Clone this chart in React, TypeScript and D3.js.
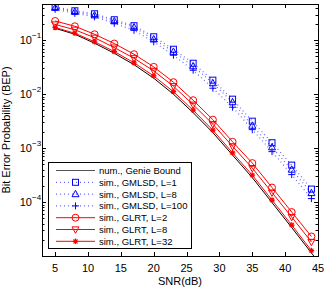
import React, { useEffect, useRef } from 'react';
import * as d3 from 'd3';

// SNR points where the simulated curves have markers
const snr = [5, 8, 11, 14, 17, 20, 23, 26, 29, 32, 35, 38, 41, 44];
// genie bound is drawn out to the edge of the axis
const genieSnr = [5, 8, 11, 14, 17, 20, 23, 26, 29, 32, 35, 38, 41, 44, 45];
const genie = [0.1668, 0.1292, 0.088, 0.0574, 0.0352, 0.0198, 0.01, 0.00454, 0.00194, 7.42e-4, 2.84e-4, 9.79e-5, 3.37e-5, 1.14e-5, 7.9e-6];

const gmlsdL1 = [0.417, 0.352, 0.31, 0.24, 0.186, 0.116, 0.0681, 0.0375, 0.0182, 0.00808, 0.00316, 0.00126, 4.84e-4, 1.74e-4];
const gmlsdL8 = [0.4, 0.337, 0.29, 0.225, 0.174, 0.1044, 0.0612, 0.033, 0.016, 0.00711, 0.00261, 0.00104, 4.0e-4, 1.47e-4];
const gmlsdL100 = [0.375, 0.316, 0.272, 0.206, 0.153, 0.0938, 0.0527, 0.0278, 0.0129, 0.00574, 0.0022, 8.62e-4, 3.23e-4, 1.16e-4];

const glrtL2 = [0.2275, 0.1816, 0.129, 0.0869, 0.0551, 0.0321, 0.0167, 0.00774, 0.00337, 0.00131, 5.28e-4, 1.86e-4, 6.53e-5, 2.3e-5];
const glrtL8 = [0.1962, 0.1564, 0.1112, 0.0732, 0.0464, 0.027, 0.01406, 0.00639, 0.00278, 0.00108, 4.26e-4, 1.5e-4, 5.28e-5, 1.82e-5];
const glrtL32 = [0.1726, 0.1348, 0.0938, 0.0617, 0.0383, 0.0218, 0.01112, 0.00505, 0.00215, 8.18e-4, 3.16e-4, 1.09e-4, 3.75e-5, 1.26e-5];

const xTicks = [5, 10, 15, 20, 25, 30, 35, 40, 45];
const yMajor = [-1, -2, -3, -4];

const BLUE = '#0000ff';
const RED = '#ff0000';

const series = [
  { name: 'num., Genie Bound', x: genieSnr, y: genie, color: '#000000', dash: null, marker: 'none' },
  { name: 'sim., GMLSD, L=1', x: snr, y: gmlsdL1, color: BLUE, dash: '1 3', marker: 'square' },
  { name: 'sim., GMLSD, L=8', x: snr, y: gmlsdL8, color: BLUE, dash: '1 3', marker: 'triangle' },
  { name: 'sim., GMLSD, L=100', x: snr, y: gmlsdL100, color: BLUE, dash: '1 3', marker: 'plus' },
  { name: 'sim., GLRT, L=2', x: snr, y: glrtL2, color: RED, dash: null, marker: 'circle' },
  { name: 'sim., GLRT, L=8', x: snr, y: glrtL8, color: RED, dash: null, marker: 'triangleDown' },
  { name: 'sim., GLRT, L=32', x: snr, y: glrtL32, color: RED, dash: null, marker: 'star' },
];

const drawMarker = (g, type, cx, cy, color) => {
  const s = 3;
  if (type === 'square') {
    g.append('rect').attr('x', cx - s).attr('y', cy - s).attr('width', 2 * s).attr('height', 2 * s)
      .attr('fill', 'none').attr('stroke', color).attr('stroke-width', 1);
  } else if (type === 'circle') {
    g.append('circle').attr('cx', cx).attr('cy', cy).attr('r', 3.5)
      .attr('fill', 'none').attr('stroke', color).attr('stroke-width', 1);
  } else if (type === 'triangle') {
    g.append('path').attr('d', `M${cx},${cy - 3.8}L${cx + 3.5},${cy + 2.6}L${cx - 3.5},${cy + 2.6}Z`)
      .attr('fill', 'none').attr('stroke', color).attr('stroke-width', 1);
  } else if (type === 'triangleDown') {
    g.append('path').attr('d', `M${cx},${cy + 3.8}L${cx + 3.5},${cy - 2.6}L${cx - 3.5},${cy - 2.6}Z`)
      .attr('fill', 'none').attr('stroke', color).attr('stroke-width', 1);
  } else if (type === 'plus') {
    g.append('path').attr('d', `M${cx - 3.5},${cy}H${cx + 3.5}M${cx},${cy - 3.5}V${cy + 3.5}`)
      .attr('stroke', color).attr('stroke-width', 1);
  } else if (type === 'star') {
    const r = 2.8, d = 2;
    g.append('path')
      .attr('d', `M${cx - r},${cy}H${cx + r}M${cx},${cy - r}V${cy + r}M${cx - d},${cy - d}L${cx + d},${cy + d}M${cx - d},${cy + d}L${cx + d},${cy - d}`)
      .attr('stroke', color).attr('stroke-width', 1.2);
  }
};

const App = () => {
  const ref = useRef(null);

  useEffect(() => {
    const svg = d3.select(ref.current);
    svg.selectAll('*').remove();

    const left = 42, right = 318, top = 4, bottom = 256;
    const x = d3.scaleLinear().domain([3, 45]).range([left, right]);
    const y = d3.scaleLog().domain([1e-5, 0.47]).range([bottom, top]);

    const font = '"Liberation Sans", Arial, Helvetica, sans-serif';

    svg.append('rect').attr('width', 326).attr('height', 288).attr('fill', '#fff');

    svg.append('defs').append('clipPath').attr('id', 'plotclip')
      .append('rect').attr('x', left).attr('y', top).attr('width', right - left).attr('height', bottom - top);

    // ticks
    const ticks = svg.append('g').attr('stroke', '#000').attr('stroke-width', 1);
    xTicks.forEach((t) => {
      const px = Math.round(x(t)) + 0.5;
      ticks.append('line').attr('x1', px).attr('x2', px).attr('y1', bottom).attr('y2', bottom - 4);
      ticks.append('line').attr('x1', px).attr('x2', px).attr('y1', top).attr('y2', top + 4);
    });
    for (let e = -5; e <= -1; e++) {
      for (let m = 1; m <= 9; m++) {
        const v = m * Math.pow(10, e);
        if (v > 0.47) continue;
        const py = Math.round(y(v)) + 0.5;
        const len = m === 1 ? 4 : 2.5;
        ticks.append('line').attr('x1', left).attr('x2', left + len).attr('y1', py).attr('y2', py);
        ticks.append('line').attr('x1', right).attr('x2', right - len).attr('y1', py).attr('y2', py);
      }
    }

    // curves
    const plot = svg.append('g').attr('clip-path', 'url(#plotclip)');
    series.forEach((s) => {
      const pts = s.x.map((v, i) => [x(v), y(s.y[i])]);
      const line = d3.line();
      plot.append('path')
        .attr('d', line(pts))
        .attr('fill', 'none')
        .attr('stroke', s.color)
        .attr('stroke-width', s.dash ? 1.2 : 1)
        .attr('stroke-opacity', s.dash ? 0.6 : 1)
        .attr('stroke-dasharray', s.dash);
      if (s.marker !== 'none') {
        pts.forEach((p) => drawMarker(plot, s.marker, p[0], p[1], s.color));
      }
    });

    // frame
    svg.append('rect').attr('x', left + 0.5).attr('y', top + 0.5)
      .attr('width', right - left).attr('height', bottom - top)
      .attr('fill', 'none').attr('stroke', '#000').attr('stroke-width', 1);

    // tick labels
    xTicks.forEach((t) => {
      svg.append('text').attr('x', x(t)).attr('y', bottom + 16)
        .attr('text-anchor', 'middle').attr('font-family', font).attr('font-size', 11)
        .text(t);
    });
    yMajor.forEach((e) => {
      const t = svg.append('text').attr('x', 32).attr('y', y(Math.pow(10, e)) + 4)
        .attr('text-anchor', 'end').attr('font-family', font).attr('font-size', 11);
      t.text('10');
      svg.append('text').attr('x', 32).attr('y', y(Math.pow(10, e)) - 2)
        .attr('font-family', font).attr('font-size', 8)
        .text('\u2212' + Math.abs(e));
    });

    // axis titles
    svg.append('text').attr('x', (left + right) / 2).attr('y', bottom + 29)
      .attr('text-anchor', 'middle').attr('font-family', font).attr('font-size', 11)
      .text('SNR(dB)');
    svg.append('text').attr('transform', `translate(10,${(top + bottom) / 2}) rotate(-90)`)
      .attr('text-anchor', 'middle').attr('font-family', font).attr('font-size', 11)
      .text('Bit Error Probability (BEP)');

    // legend
    const lg = svg.append('g');
    lg.append('rect').attr('x', 48.5).attr('y', 162.5).attr('width', 143).attr('height', 86)
      .attr('fill', '#fff').attr('stroke', '#000').attr('stroke-width', 1);
    series.forEach((s, i) => {
      const ly = 170.5 + i * 11.8;
      lg.append('line').attr('x1', 56).attr('x2', 95).attr('y1', ly).attr('y2', ly)
        .attr('stroke', s.color === '#000000' ? '#555' : s.color)
        .attr('stroke-width', s.dash ? 1.2 : 1)
        .attr('stroke-opacity', s.dash ? 0.6 : 1)
        .attr('stroke-dasharray', s.dash);
      if (s.marker !== 'none') drawMarker(lg, s.marker, 75.5, ly, s.color);
      lg.append('text').attr('x', 99).attr('y', ly + 3.5)
        .attr('font-family', font).attr('font-size', 9.5)
        .text(s.name);
    });
  }, []);

  return (
    <div style={{ position: 'absolute', left: 0, top: 0 }}>
      <svg ref={ref} width={326} height={288} style={{ display: 'block' }}></svg>
    </div>
  );
};

export default App;
